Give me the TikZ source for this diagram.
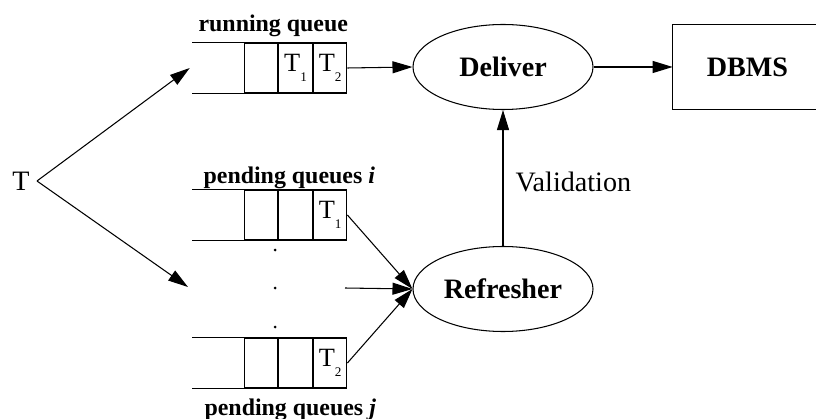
\documentclass[tikz,border=0pt]{standalone}
\usepackage{fontspec}
\setmainfont{Liberation Serif}
\usetikzlibrary{
  shapes.geometric,
  arrows.meta,
  positioning, calc
}
% task in a queue slot, with its index set low
\newcommand{\qtask}[1]{T\raisebox{-5.5pt}{\fontsize{7.5}{8}\selectfont #1}}
\tikzset{
  cell/.style={rectangle,draw,line width=0.6pt,minimum width=0.67cm,minimum height=1.0cm,
    inner sep=0pt,font=\fontsize{15}{15}\selectfont},
  procnode/.style={ellipse,draw,line width=0.6pt,minimum width=3.6cm,minimum height=1.7cm,
    inner sep=0pt,font=\fontsize{16}{16}\selectfont\bfseries},
  dbnode/.style={rectangle,minimum width=2.98cm,minimum height=1.68cm,
    font=\fontsize{16}{16}\selectfont\bfseries},
  qlabel/.style={inner sep=0pt,anchor=base,font=\fontsize{13.6}{14}\selectfont\bfseries},
  qline/.style={line width=0.6pt},
  arr/.style={-{Triangle[length=0.4cm,width=0.24cm]},line width=0.6pt}
}

\begin{document}
\begin{tikzpicture}[node distance=0pt]
  \useasboundingbox (0,0) rectangle (16.32,-8.38);

  % incoming transactions
  \node[font=\fontsize{16}{16}\selectfont,inner sep=4pt] (t) at (0.42,-3.62) {T};

  % Running queue
  \node[cell] (rq1) at (5.22,-1.36) {};
  \node[cell,right=of rq1] (rq2) {\qtask{1}};
  \node[cell,right=of rq2] (rq3) {\qtask{2}};
  \draw[qline] (rq1.north west) -- ++(-1.04,0);
  \draw[qline] (rq1.south west) -- ++(-1.04,0);
  \coordinate (rqin) at ($(rq1.west)+(-1.08,0)$);
  \node[qlabel] (rqlab) at ($(rq2.north west)+(-0.1,0.22)$) {running queue};

  % Pending queues
  \node[cell] (pi1) at (5.22,-4.30) {};
  \node[cell,right=of pi1] (pi2) {};
  \node[cell,right=of pi2] (pi3) {\qtask{1}};
  \draw[qline] (pi1.north west) -- ++(-1.04,0);
  \draw[qline] (pi1.south west) -- ++(-1.04,0);
  \node[qlabel] (pilab) at ($(pi2.north west)+(0.22,0.12)$) {pending queues \textit{i}};

  \node[cell] (pj1) at (5.22,-7.26) {};
  \node[cell,right=of pj1] (pj2) {};
  \node[cell,right=of pj2] (pj3) {\qtask{2}};
  \draw[qline] (pj1.north west) -- ++(-1.04,0);
  \draw[qline] (pj1.south west) -- ++(-1.04,0);
  \node[qlabel] (pjlab) at ($(pj2.south west)+(0.24,-0.54)$) {pending queues \textit{j}};

  \foreach \y in {-5.0,-5.76,-6.54}
    \fill (5.5,\y) circle (0.03);
  \coordinate (pendin) at (3.76,-5.74);
  \coordinate (pmid) at (6.9,-5.76);

  \draw[arr] (t.east) -- (rqin);
  \draw[arr] (t.east) -- (pendin);

  % Processing
  \node[procnode] (deliver) at (10.06,-1.34) {Deliver};
  \node[procnode] (refresher) at (10.06,-5.78) {Refresher};
  \node[dbnode] (dbms) at (14.95,-1.34) {DBMS};
  % box runs on past the right margin
  \draw[qline] ([xshift=0.3cm]dbms.north east) -- (dbms.north west)
    -- (dbms.south west) -- ([xshift=0.3cm]dbms.south east);

  \draw[arr] (rq3.east) -- (deliver.west);
  \draw[arr] (deliver.east) -- (dbms.west);
  \draw[arr] (pi3.east) -- (refresher.west);
  \draw[arr] (pmid) -- (refresher.west);
  \draw[arr] (pj3.east) -- (refresher.west);
  \draw[arr] (refresher.north) -- (deliver.south)
    node[midway,right=0.24cm,yshift=-0.08cm,inner sep=0pt,font=\fontsize{16}{16}\selectfont]{Validation};

\end{tikzpicture}
\end{document}
